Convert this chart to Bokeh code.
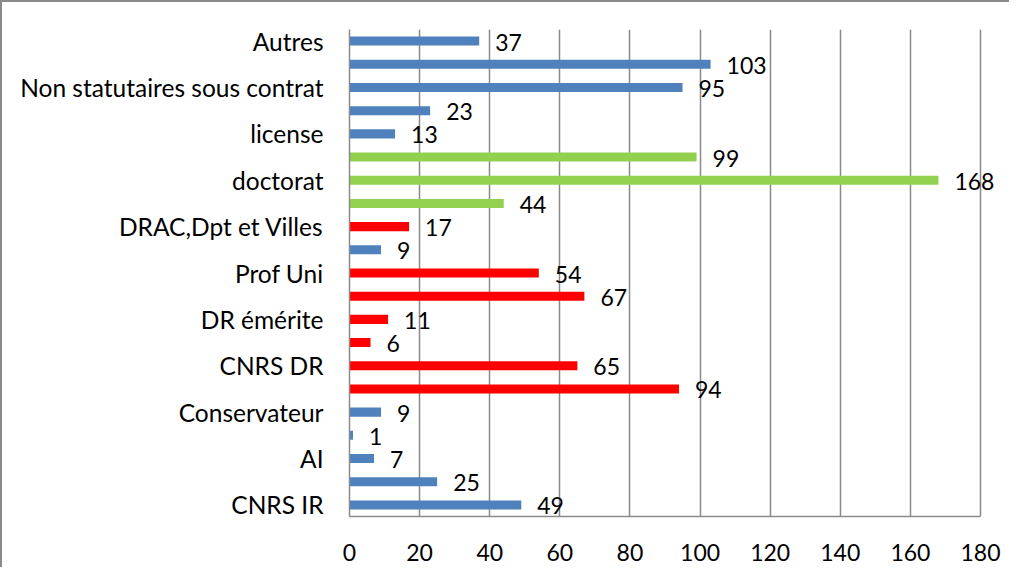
from bokeh.plotting import figure
from bokeh.models import ColumnDataSource, Range1d, FixedTicker, Label
from bokeh.transform import factor_cmap
from bokeh.embed import file_html
from bokeh.resources import INLINE

# bottom to top; empty string = category label not shown on axis
categories = ["CNRS IR", "", "AI", "", "Conservateur", "", "CNRS DR", "",
              "DR émérite", "", "Prof Uni", "", "DRAC,Dpt et Villes", "",
              "doctorat", "", "license", "", "Non statutaires sous contrat", "",
              "Autres"]
values = [49, 25, 7, 1, 9, 94, 65, 6, 11, 67, 54, 9, 17, 44, 168, 99, 13, 23, 95, 103, 37]
groups = ["autre", "autre", "autre", "autre", "autre", "chercheur", "chercheur", "chercheur",
          "chercheur", "chercheur", "chercheur", "autre", "chercheur", "etudiant",
          "etudiant", "etudiant", "autre", "autre", "autre", "autre", "autre"]
group_names = ["autre", "chercheur", "etudiant"]
group_colors = ["#4F81BD", "#FF0000", "#92D050"]
x_ticks = [0, 20, 40, 60, 80, 100, 120, 140, 160, 180]

idx = list(range(len(values)))
src = ColumnDataSource(dict(y=idx, v=values, g=groups))

FONT = "Lato"
AX_MAX = 180

# frame extends a little past 180 so the value labels are not clipped;
# axis line and gridlines stop at 180
p = figure(width=1009, height=567, output_backend="svg", toolbar_location=None,
           x_range=Range1d(0, 188.27), y_range=Range1d(-0.5, len(values) - 0.5),
           min_border_left=347, min_border_right=2, min_border_top=27, min_border_bottom=53)
p.styles = {"border-left": "2px solid #8a8a8a", "border-top": "2px solid #8a8a8a"}

p.hbar(y="y", right="v", left=0, height=0.39, source=src,
       fill_color=factor_cmap("g", group_colors, group_names), line_color=None)

for yi, v in zip(idx, values):
    p.add_layout(Label(x=v, y=yi, text=str(v), x_offset=16, y_offset=-1,
                       text_baseline="middle", text_font=FONT, text_font_size="23px",
                       text_color="black"))

p.outline_line_color = None
p.ygrid.grid_line_color = None
p.xgrid.grid_line_color = "#8a8a8a"
p.xgrid.grid_line_width = 1.5
p.xgrid.ticker = FixedTicker(ticks=x_ticks)

p.xaxis.ticker = FixedTicker(ticks=x_ticks)
p.xaxis.bounds = (0, AX_MAX)
p.xaxis.axis_line_color = "#8a8a8a"
p.xaxis.axis_line_width = 1.5
p.xaxis.major_tick_line_color = None
p.xaxis.minor_tick_line_color = None
p.xaxis.major_label_standoff = 21
p.xaxis.major_label_text_font = FONT
p.xaxis.major_label_text_font_size = "23px"
p.xaxis.major_label_text_color = "black"

p.yaxis.ticker = FixedTicker(ticks=idx)
p.yaxis.major_label_overrides = {i: c for i, c in zip(idx, categories)}
p.yaxis.axis_line_color = "#8a8a8a"
p.yaxis.axis_line_width = 1.5
p.yaxis.major_tick_line_color = None
p.yaxis.minor_tick_line_color = None
p.yaxis.major_label_standoff = 20
p.yaxis.major_label_text_font = FONT
p.yaxis.major_label_text_font_size = "24.5px"
p.yaxis.major_label_text_color = "black"

open("out.html", "w").write(file_html(p, INLINE))
